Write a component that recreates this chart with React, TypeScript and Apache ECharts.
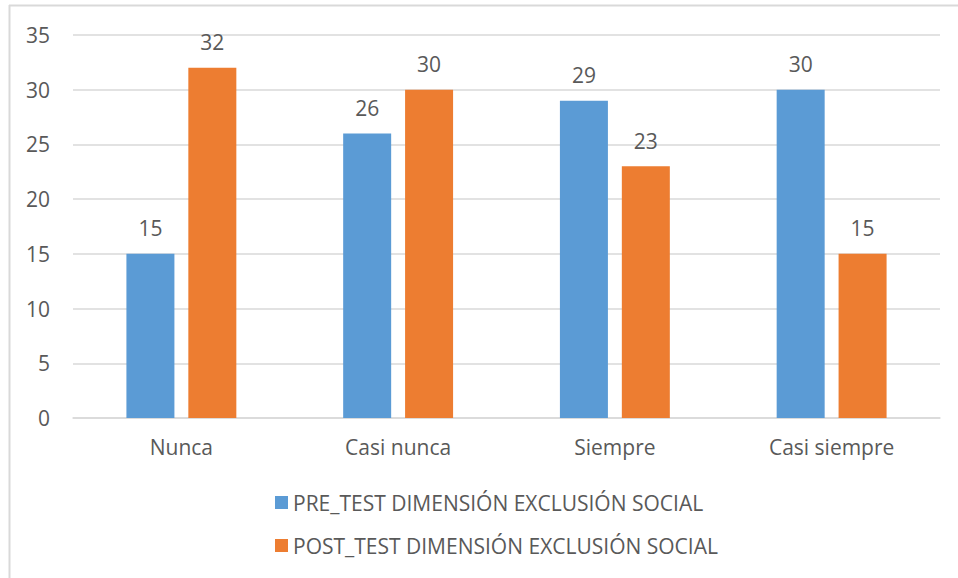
import React, { useEffect, useRef } from "react";
import * as echarts from "echarts";

const categories = ["Nunca", "Casi nunca", "Siempre", "Casi siempre"];
const preTest = [15, 26, 29, 30];
const postTest = [32, 30, 23, 15];
const seriesNames = [
  "PRE_TEST DIMENSIÓN EXCLUSIÓN SOCIAL",
  "POST_TEST DIMENSIÓN EXCLUSIÓN SOCIAL",
];

const FONT = "Open Sans";
const TEXT = "#595959";
const FS = 21;

export default function App() {
  const ref = useRef<HTMLDivElement>(null);
  useEffect(() => {
    if (!ref.current) return;
    const chart = echarts.init(ref.current, undefined, { renderer: "svg" });
    const labelStyle = {
      show: true,
      position: "top",
      distance: 15,
      color: TEXT,
      fontSize: FS,
      fontFamily: FONT,
    };
    chart.setOption({
      animation: false,
      backgroundColor: "#ffffff",
      textStyle: { fontFamily: FONT },
      grid: { left: 73, right: 18, top: 35, bottom: 160, containLabel: false },
      legend: {
        orient: "vertical",
        left: 270,
        top: 487,
        itemWidth: 13,
        itemHeight: 13,
        itemGap: 22,
        icon: "rect",
        textStyle: { color: TEXT, fontSize: FS, fontFamily: FONT },
        data: seriesNames,
      },
      xAxis: {
        type: "category",
        data: categories,
        axisTick: { show: false },
        axisLine: { lineStyle: { color: "#D9D9D9", width: 1.5 } },
        axisLabel: { color: TEXT, fontSize: FS, fontFamily: FONT, margin: 18 },
      },
      yAxis: {
        type: "value",
        min: 0,
        max: 35,
        interval: 5,
        axisLine: { show: false },
        axisTick: { show: false },
        splitLine: { lineStyle: { color: "#D9D9D9", width: 1.5 } },
        axisLabel: { color: TEXT, fontSize: FS, fontFamily: FONT, margin: 23 },
      },
      series: [
        {
          name: seriesNames[0],
          type: "bar",
          data: preTest,
          barWidth: 48,
          barGap: "29%",
          itemStyle: { color: "#5B9BD5" },
          label: labelStyle,
        },
        {
          name: seriesNames[1],
          type: "bar",
          data: postTest,
          barWidth: 48,
          barGap: "29%",
          itemStyle: { color: "#ED7D31" },
          label: labelStyle,
        },
      ],
      graphic: [
        {
          type: "line",
          shape: { x1: 9.5, y1: 5, x2: 9.5, y2: 578 },
          style: { stroke: "#D9D9D9", lineWidth: 2 },
          silent: true,
        },
        {
          type: "line",
          shape: { x1: 9, y1: 5.5, x2: 958, y2: 5.5 },
          style: { stroke: "#D9D9D9", lineWidth: 2 },
          silent: true,
        },
      ],
    });
    return () => chart.dispose();
  }, []);
  return (
    <div
      ref={ref}
      style={{ position: "fixed", left: 0, top: 0, width: 958, height: 578 }}
    />
  );
}
